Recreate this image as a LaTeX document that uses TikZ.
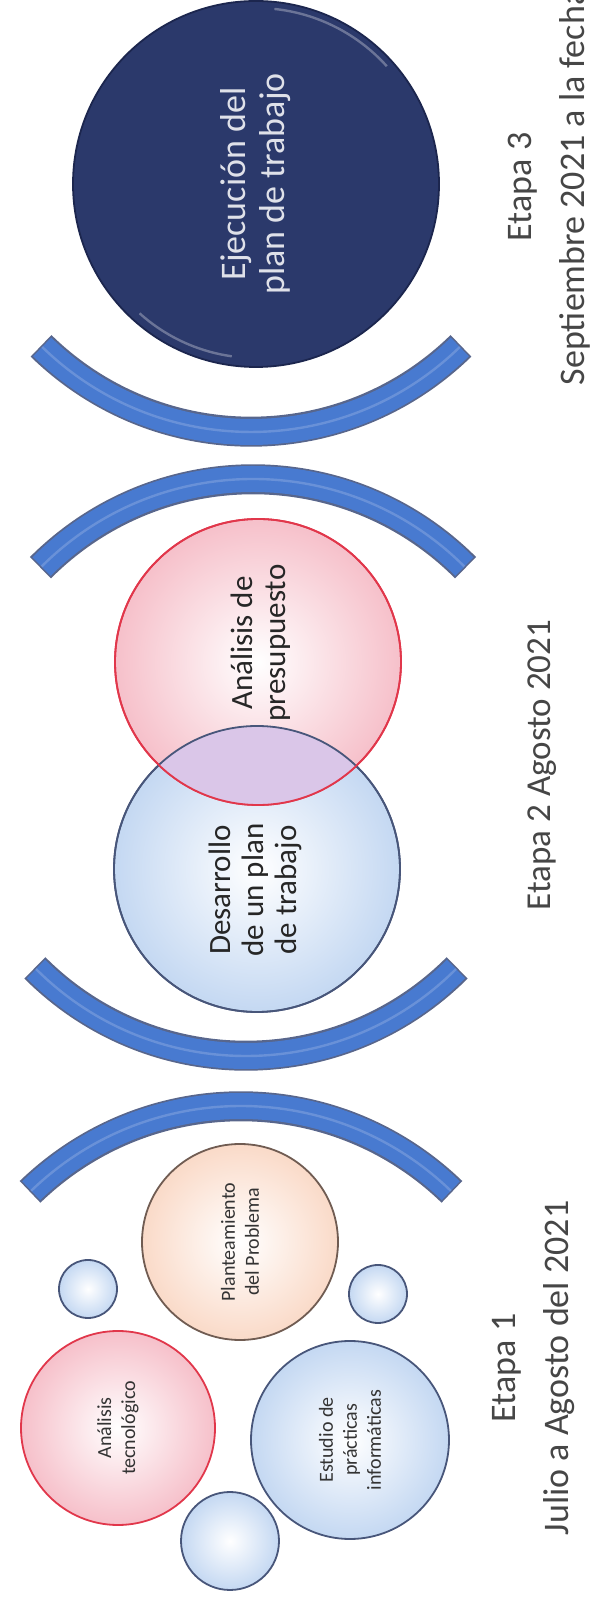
\documentclass[tikz,border=0pt]{standalone}
\usepackage{fontspec}
\setmainfont{Carlito}
\usetikzlibrary{positioning}
\definecolor{navy}{RGB}{43,57,107}
\definecolor{navyedge}{RGB}{28,38,78}
\definecolor{bandblue}{RGB}{72,122,208}
\definecolor{bandedge}{RGB}{88,102,140}
\definecolor{rededge}{RGB}{225,55,75}
\definecolor{redrim}{RGB}{246,192,202}
\definecolor{blueedge}{RGB}{72,86,122}
\definecolor{bluerim}{RGB}{196,216,242}
\definecolor{peachedge}{RGB}{112,92,82}
\definecolor{peachrim}{RGB}{250,218,200}
\definecolor{lensfill}{RGB}{218,198,232}
\definecolor{labelgray}{RGB}{70,70,70}

\begin{document}
\begin{tikzpicture}[x=0.5pt, y=0.5pt,
  bubble/.style={circle, inner sep=0pt, line width=0.9pt, align=center, rotate=90, text=black!80},
  redball/.style={bubble, draw=rededge, inner color=white, outer color=redrim},
  blueball/.style={bubble, draw=blueedge, inner color=white, outer color=bluerim},
  peachball/.style={bubble, draw=peachedge, inner color=white, outer color=peachrim},
  small/.style={font=\fontsize{10pt}{12pt}\selectfont},
  mid/.style={rotate=90, align=center, text=black!85, font=\fontsize{15.5pt}{16.5pt}\selectfont},
  band/.style={line width=13pt, draw=bandblue, preaction={draw=bandedge, line width=15pt, shorten <=-0.8pt, shorten >=-0.8pt}, postaction={draw=white, line width=1.2pt, opacity=0.18}},
  stage/.style={rotate=90, align=center, text=labelgray, font=\fontsize{18pt}{26.5pt}\selectfont}]
\useasboundingbox (0,0) rectangle (592,1624);
\clip (0,0) rectangle (592,1624);

% Etapa 3
\node (exec) at (256,1440) [bubble, minimum size=183pt, fill=navy, draw=navyedge, text=white!85!navy, font=\fontsize{18pt}{19.5pt}\selectfont] {Ejecución del\\plan de trabajo};
\draw[white, opacity=0.3, line width=1.2pt] ([shift={(42:88pt)}]exec.center) arc[start angle=42, end angle=84, radius=88pt];
\draw[white, opacity=0.3, line width=1.2pt] ([shift={(228:87pt)}]exec.center) arc[start angle=228, end angle=262, radius=87pt];
\node (etapa3) at (549,1437) [stage] {Etapa 3\\Septiembre 2021 a la fecha};

% Arcs between the stages
\draw[band] ([shift={(225.7:149.5pt)}]251,1491) arc[start angle=225.7, end angle=314.3, radius=149.5pt];
\draw[band] ([shift={(135:149.5pt)}]253,846) arc[start angle=135, end angle=45, radius=149.5pt];
\draw[band] ([shift={(225:148.5pt)}]246,865) arc[start angle=225, end angle=315, radius=148.5pt];
\draw[band] ([shift={(134:151pt)}]241,216) arc[start angle=134, end angle=46, radius=151pt];

% Etapa 2
\node (desarr) at (257,755) [blueball, minimum size=143pt] {};
\node (presup) at (258,962) [redball, minimum size=143pt] {};
\begin{scope}
  \clip (desarr.center) circle[radius=71.5pt];
  \fill[lensfill] (presup.center) circle[radius=71.5pt];
\end{scope}
\draw[blueedge, line width=0.9pt] (desarr.center) circle[radius=71.5pt];
\draw[rededge, line width=0.9pt] (presup.center) circle[radius=71.5pt];
\node (desarr-txt) at (255,734) [mid] {Desarrollo\\de un plan\\de trabajo};
\node (presup-txt) at (261,981) [mid] {Análisis de\\presupuesto};
\node (etapa2) at (542,859) [stage, font=\fontsize{17.5pt}{20pt}\selectfont] {Etapa 2 Agosto 2021};

% Etapa 1
\node (plante) at (240,382) [peachball, small, minimum size=98pt] {Planteamiento\\del Problema};
\node (tecno) at (118,196) [redball, small, minimum size=97pt] {Análisis\\tecnológico};
\node (estudio) at (350,184) [blueball, small, minimum size=99pt] {Estudio de\\prácticas\\informáticas};
\node (bub1) at (88,335) [blueball, minimum size=29pt] {};
\node (bub2) at (378,330) [blueball, minimum size=29pt] {};
\node (bub3) at (230,83) [blueball, minimum size=49pt] {};
\node (etapa1) at (534,256) [stage] {Etapa 1\\Julio a Agosto del 2021};
\end{tikzpicture}
\end{document}
